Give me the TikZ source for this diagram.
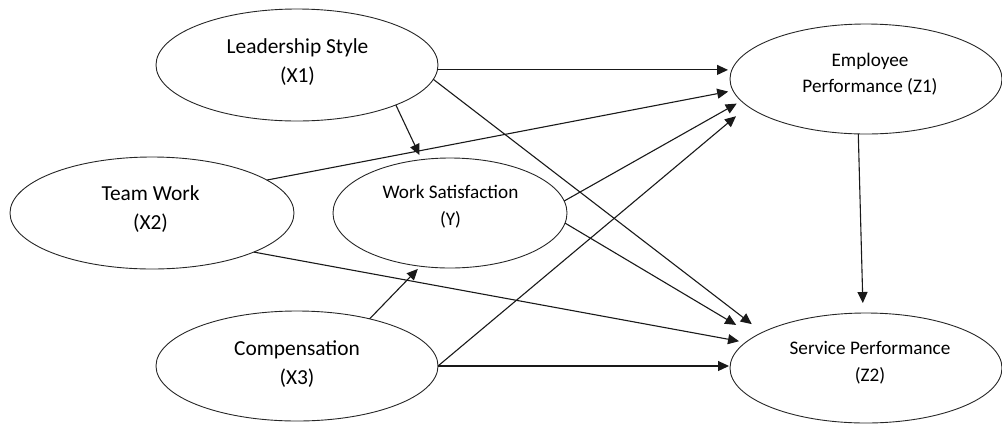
\documentclass[tikz,border=0pt]{standalone}
\usepackage{fontspec}
\setmainfont{Carlito}
\usetikzlibrary{arrows.meta,shapes.geometric}
\begin{document}
\begin{tikzpicture}[x=1bp,y=-1bp,
  oval/.style={draw=black!85, line width=0.9bp, ellipse, inner sep=0pt, outer sep=0pt},
  lbl/.style={align=center, inner sep=0pt, text=black},
  big/.style={font=\fontsize{21.4bp}{29bp}\selectfont},
  mid/.style={font=\fontsize{19.2bp}{27bp}\selectfont},
  sml/.style={font=\fontsize{19.2bp}{26bp}\selectfont},
  arr/.style={draw=black!90, line width=1.1bp, -{Triangle[length=11bp,width=10bp]}}]
\useasboundingbox (0,0) rectangle (1002,423);
% ellipses
\node[oval, minimum width=282bp, minimum height=112bp] (ls) at (297,65) {};
\node[oval, minimum width=284bp, minimum height=112bp] (tw) at (152,213) {};
\node[oval, minimum width=234bp, minimum height=110bp] (ws) at (450,213) {};
\node[oval, minimum width=282bp, minimum height=110bp] (comp) at (297,366) {};
\node[oval, minimum width=272bp, minimum height=110bp] (ep) at (866,79) {};
\node[oval, minimum width=272bp, minimum height=110bp] (sp) at (866,368) {};
% texts
\node[lbl, big] (lsT) at (297.5,62) {Leadership Style\\(X1)};
\node[lbl, big] (twT) at (150.5,209.5) {Team Work\\(X2)};
\node[lbl, mid] (wsT) at (450.5,207) {Work Satisfaction\\(Y)};
\node[lbl, big] (compT) at (297,364) {Compensation\\(X3)};
\node[lbl, sml] (epT) at (870,74.5) {Employee\\Performance (Z1)};
\node[lbl, mid] (spT) at (870,363) {Service Performance\\(Z2)};
% connectors
\draw[arr, shorten >=2bp] (ls.-2) -- (ls.-2 -| ep.west);
\draw[arr, shorten >=13.5bp] (ls.-6.3) -- (sp.161.8);
\draw[arr, shorten >=5bp] (ls.-22.7) -- (ws.118.3);
\draw[arr, shorten >=5bp] (tw.16.6) -- (ep.185.6);
\draw[arr, shorten >=6.7bp] (tw.-21.1) -- (sp.168.5);
\draw[arr, shorten >=5.3bp] (ws.6.3) -- (ep.190.2);
\draw[arr, shorten >=22bp] (ws.-5.4) -- (sp.164.1);
\draw[arr, shorten >=3.8bp] (comp.33.3) -- (ws.241.1);
\draw[arr, shorten >=15.5bp] (comp.0.8) -- (ep.193.5);
\draw[arr, shorten >=1bp] (comp.east) -- (comp.east -| sp.west);
\draw[arr, shorten >=10bp] (ep.262.7) -- (sp.93.8);
\end{tikzpicture}
\end{document}
